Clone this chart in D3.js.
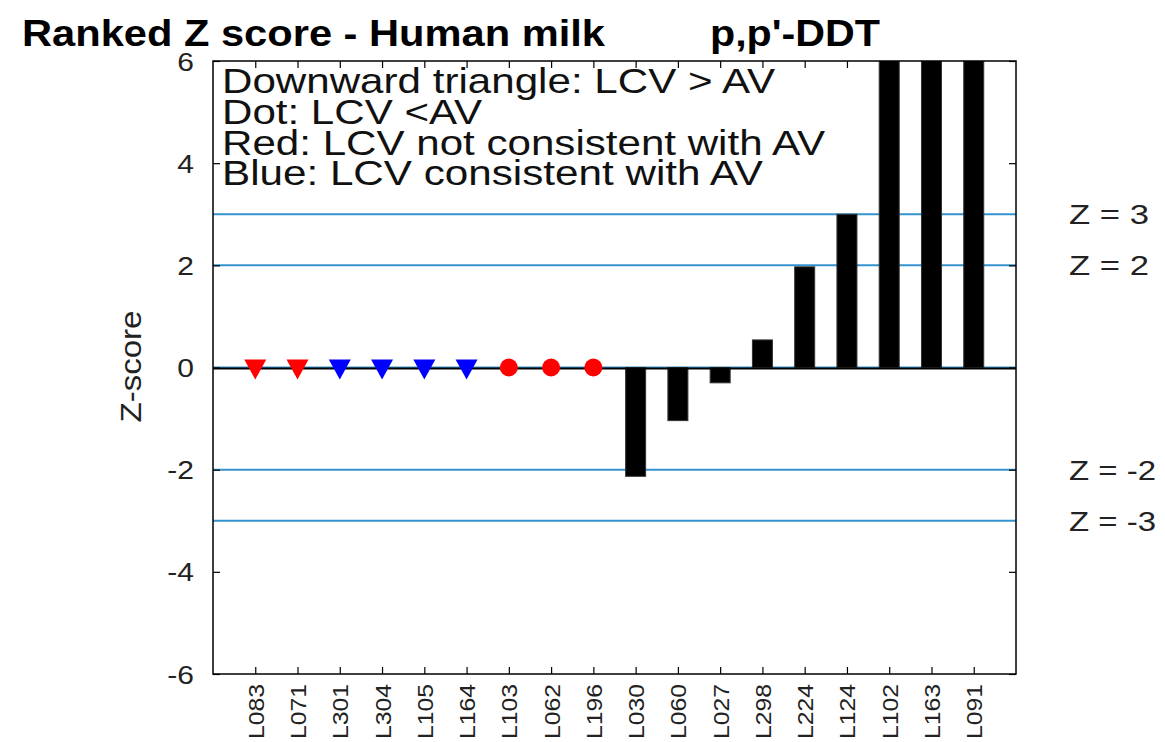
<!DOCTYPE html>
<html><head><meta charset="utf-8">
<script src="https://cdn.jsdelivr.net/npm/d3@7"></script>
<style>
html,body{margin:0;padding:0;background:#fff;}
svg{display:block;font-family:"Liberation Sans",Arial,Helvetica,sans-serif;}
</style></head>
<body>
<svg id="chart" width="1165" height="742"></svg>
<script>
// ---- data ----
const categories = ["L083","L071","L301","L304","L105","L164","L103","L062","L196","L030","L060","L027","L298","L224","L124","L102","L163","L091"];
const barValues = [null,null,null,null,null,null,null,null,null,-2.13,-1.04,-0.30,0.54,1.97,3.00,7.5,8.8,10.5];
const markerShapes = ["triangle","triangle","triangle","triangle","triangle","triangle","dot","dot","dot"];
const markerColors = ["red","red","blue","blue","blue","blue","red","red","red"];
const yTicks = [-6,-4,-2,0,2,4,6];
const limitLines = [3,2,-2,-3];
const limitLabels = ["Z = 3","Z = 2","Z = -2","Z = -3"];
const legendLines = ["Downward triangle: LCV > AV","Dot: LCV <AV","Red: LCV not consistent with AV","Blue: LCV consistent with AV"];
const titleText = "Ranked Z score - Human milk";
const compoundText = "p,p'-DDT";

// ---- layout ----
const L = 213, R = 1016, T = 61, B = 674;
const svg = d3.select("#chart");
const x = d3.scaleLinear().domain([0, categories.length + 1]).range([L, R]);
const y = d3.scaleLinear().domain([-6, 6]).range([B, T]);
const colorMap = {red:"#ff0000", blue:"#0000ff"};
const lineBlue = "#3593cf";

svg.append("rect").attr("width",1165).attr("height",742).attr("fill","#fff");

svg.append("defs").append("clipPath").attr("id","plotclip")
  .append("rect").attr("x",L).attr("y",T).attr("width",R-L).attr("height",B-T);

const plot = svg.append("g").attr("clip-path","url(#plotclip)");

// limit lines
plot.selectAll("line.lim").data(limitLines.concat([0])).enter().append("line")
  .attr("class","lim")
  .attr("x1",L).attr("x2",R)
  .attr("y1",d=>y(d)).attr("y2",d=>y(d))
  .attr("stroke",lineBlue).attr("stroke-width",2);

// bars
const bw = 20;
const barData = categories.map((c,i)=>({c,i,v:barValues[i]})).filter(d=>d.v!==null);
plot.selectAll("rect.bar").data(barData).enter().append("rect")
  .attr("class","bar")
  .attr("x",d=>x(d.i+1)-bw/2)
  .attr("width",bw)
  .attr("y",d=>y(Math.max(0,d.v)))
  .attr("height",d=>Math.abs(y(d.v)-y(0)))
  .attr("fill","#000").attr("stroke","#333").attr("stroke-width",1);

// zero baseline
plot.append("line").attr("x1",L).attr("x2",R)
  .attr("y1",y(0)+1).attr("y2",y(0)+1)
  .attr("stroke","#000").attr("stroke-width",2);

// markers
const mk = markerShapes.map((s,i)=>({s,i,col:colorMap[markerColors[i]]}));
mk.forEach(d=>{
  const cx = x(d.i+1), cy = y(0);
  if(d.s==="triangle"){
    plot.append("path")
      .attr("d",`M${cx-11},${cy-8}L${cx+11},${cy-8}L${cx},${cy+12}Z`)
      .attr("fill",d.col);
  } else {
    plot.append("circle").attr("cx",cx).attr("cy",cy).attr("r",9).attr("fill",d.col);
  }
});

// axes box
svg.append("rect").attr("x",L).attr("y",T).attr("width",R-L).attr("height",B-T)
  .attr("fill","none").attr("stroke","#000").attr("stroke-width",1.5);

// y axis left (ticks inward)
const yAxis = svg.append("g").attr("transform",`translate(${L},0)`)
  .call(d3.axisLeft(y).tickValues(yTicks).tickSize(-7).tickPadding(18).tickFormat(d3.format("d")));
yAxis.select(".domain").remove();
yAxis.selectAll("line").attr("stroke","#000").attr("stroke-width",1.2);
yAxis.selectAll("text")
  .attr("font-size",25).attr("fill","#222")
  .attr("x",null).attr("dy",null)
  .attr("text-anchor","end")
  .attr("transform","translate(-19,9) scale(1.2,1)")
  .text(d=> d<0 ? "-"+Math.abs(d) : d);

// y axis right ticks
const yAxisR = svg.append("g").attr("transform",`translate(${R},0)`)
  .call(d3.axisRight(y).tickValues(yTicks).tickSize(-7).tickFormat(""));
yAxisR.select(".domain").remove();
yAxisR.selectAll("line").attr("stroke","#000").attr("stroke-width",1.2);

// x axis bottom
const xTickVals = categories.map((c,i)=>i+1);
const xAxis = svg.append("g").attr("transform",`translate(0,${B})`)
  .call(d3.axisBottom(x).tickValues(xTickVals).tickSize(-7).tickFormat(d=>categories[d-1]));
xAxis.select(".domain").remove();
xAxis.selectAll("line").attr("stroke","#000").attr("stroke-width",1.2);
xAxis.selectAll("text")
  .attr("font-size",22).attr("fill","#222")
  .attr("y",null).attr("dy",null)
  .attr("text-anchor","end")
  .attr("transform","translate(8,10) rotate(-90)")
  .attr("textLength",55).attr("lengthAdjust","spacingAndGlyphs");

// x axis top ticks
const xAxisT = svg.append("g").attr("transform",`translate(0,${T})`)
  .call(d3.axisTop(x).tickValues(xTickVals).tickSize(-7).tickFormat(""));
xAxisT.select(".domain").remove();
xAxisT.selectAll("line").attr("stroke","#000").attr("stroke-width",1.2);

// y label
svg.append("text").attr("transform",`translate(141,${y(0)-1}) rotate(-90)`)
  .attr("text-anchor","middle").attr("font-size",30).attr("fill","#222")
  .attr("textLength",112).attr("lengthAdjust","spacingAndGlyphs")
  .text("Z-score");

// title
svg.append("text").attr("x",22).attr("y",46).attr("font-size",36).attr("font-weight","bold")
  .attr("fill","#000").attr("textLength",583).attr("lengthAdjust","spacingAndGlyphs").text(titleText);
svg.append("text").attr("x",710).attr("y",46).attr("font-size",36).attr("font-weight","bold")
  .attr("fill","#000").attr("textLength",170).attr("lengthAdjust","spacingAndGlyphs").text(compoundText);

// legend text
const legW = [553,260,603,541];
const legY = [93,124,155,185];
svg.selectAll("text.leg").data(legendLines).enter().append("text")
  .attr("class","leg").attr("x",222).attr("y",(d,i)=>legY[i])
  .attr("font-size",35).attr("fill","#111")
  .attr("textLength",(d,i)=>legW[i]).attr("lengthAdjust","spacingAndGlyphs")
  .text(d=>d);

// limit labels
const limW = [80,80,87,87];
svg.selectAll("text.liml").data(limitLines).enter().append("text")
  .attr("class","liml").attr("x",1069).attr("y",d=>y(d)+10)
  .attr("font-size",27).attr("fill","#222")
  .attr("textLength",(d,i)=>limW[i]).attr("lengthAdjust","spacingAndGlyphs")
  .text((d,i)=>limitLabels[i]);
</script>
</body></html>
